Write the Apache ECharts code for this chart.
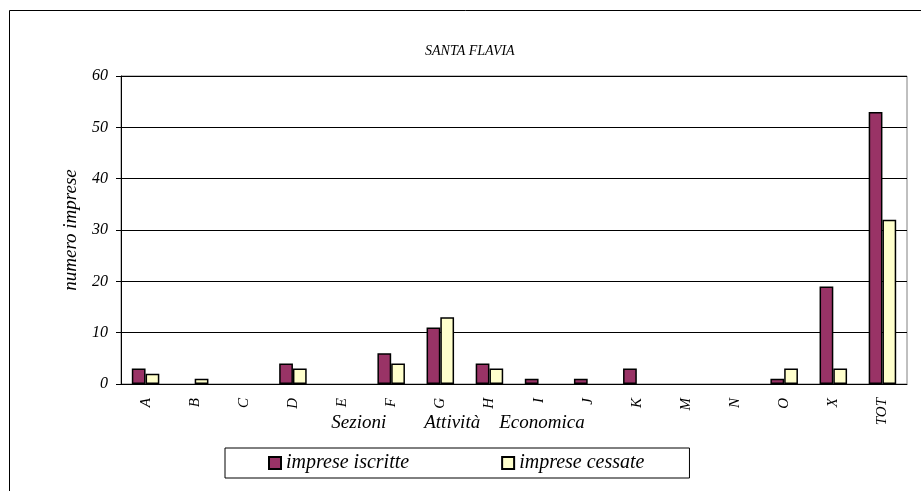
<!DOCTYPE html>
<html><head><meta charset="utf-8">
<script src="https://cdn.jsdelivr.net/npm/echarts@6/dist/echarts.min.js"></script>
<style>html,body{margin:0;padding:0;background:#fff}#c{width:921px;height:491px}</style>
</head><body><div id="c"></div>
<script>
const categories = ['A','B','C','D','E','F','G','H','I','J','K','M','N','O','X','TOT'];
const iscritte = [3,0,0,4,0,6,11,4,1,1,3,0,0,1,19,53];
const cessate  = [2,1,0,3,0,4,13,3,0,0,0,0,0,3,3,32];
const yTicks = [0,10,20,30,40,50,60];
const FONT = '"Liberation Serif", "Times New Roman", serif';
// zero-valued bars are not drawn in the reference (no outline)
const asItems = arr => arr.map(v => v === 0 ? { value: v, itemStyle: { borderWidth: 0, opacity: 0 } } : v);
const chart = echarts.init(document.getElementById('c'));
chart.setOption({
  animation: false,
  backgroundColor: '#fff',
  textStyle: { fontFamily: FONT, fontStyle: 'italic', color: '#000' },
  graphic: [{
    type: 'rect', shape: { x: 9.5, y: 10.5, width: 920, height: 500 },
    style: { fill: 'none', stroke: '#000', lineWidth: 1 }, silent: true, z: -10
  }],
  title: {
    text: 'SANTA FLAVIA', left: 420, top: 39,
    textStyle: { fontFamily: FONT, fontStyle: 'italic', fontWeight: 'normal', fontSize: 14, color: '#000' }
  },
  grid: { left: 121, right: 14, top: 76, bottom: 107, show: true, borderColor: '#808080', borderWidth: 1 },
  legend: {
    left: 225, top: 448, itemWidth: 12, itemHeight: 12, itemGap: 92, icon: 'rect',
    padding: [5, 45, 5, 43], borderColor: '#000', borderWidth: 1,
    textStyle: { fontFamily: FONT, fontStyle: 'italic', fontSize: 20, color: '#000' },
    data: ['imprese iscritte', 'imprese cessate']
  },
  xAxis: {
    type: 'category', data: categories,
    axisLine: { lineStyle: { color: '#000' } },
    axisTick: { length: 6, lineStyle: { color: '#000' } },
    axisLabel: { rotate: 90, margin: 14, fontFamily: FONT, fontStyle: 'italic', fontSize: 15, color: '#000' },
    name: 'Sezioni        Attività    Economica', nameLocation: 'middle', nameGap: 29,
    nameMoveOverlap: false,
    nameTextStyle: { fontFamily: FONT, fontStyle: 'italic', fontSize: 19, color: '#000', padding: [0, 112, 0, 0] }
  },
  yAxis: {
    type: 'value', min: 0, max: 60, interval: 10,
    axisLine: { show: true, lineStyle: { color: '#000' } },
    axisTick: { show: true, length: 5, lineStyle: { color: '#000' } },
    splitLine: { lineStyle: { color: '#000', width: 1 } },
    axisLabel: { margin: 13, fontFamily: FONT, fontStyle: 'italic', fontSize: 16, color: '#000',
      formatter: v => yTicks.includes(v) ? String(v) : '' },
    name: 'numero imprese', nameLocation: 'middle', nameGap: 41, nameMoveOverlap: false,
    nameTextStyle: { fontFamily: FONT, fontStyle: 'italic', fontSize: 19, color: '#000' }
  },
  series: [
    { name: 'imprese iscritte', type: 'bar', data: asItems(iscritte), barWidth: '28%', barGap: '0%',
      itemStyle: { color: '#993366', borderColor: '#000', borderWidth: 1.5 } },
    { name: 'imprese cessate', type: 'bar', data: asItems(cessate), barWidth: '28%', barGap: '0%',
      itemStyle: { color: '#FFFFCC', borderColor: '#000', borderWidth: 1.5 } }
  ]
});
</script></body></html>
